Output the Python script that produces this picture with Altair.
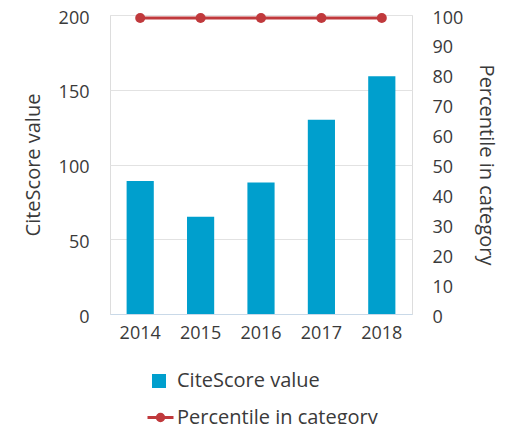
import altair as alt
import pandas as pd

years = ["2014", "2015", "2016", "2017", "2018"]
citescore = [89, 65, 88, 130, 159]
percentile = [99, 99, 99, 99, 99]
bar_series = ["CiteScore value"] * 5
line_series = ["Percentile in category"] * 5

df = pd.DataFrame({
    "year": years,
    "citescore": citescore,
    "percentile": percentile,
    "s1": bar_series,
    "s2": line_series,
})

FONT = "Open Sans"
TXT = "#3a3a3a"
BLUE = "#009fcd"
RED = "#c0393c"

x = alt.X(
    "year:N",
    scale=alt.Scale(paddingInner=0.55, paddingOuter=0.275),
    axis=alt.Axis(title=None, labelAngle=0, ticks=False, domain=True,
                  domainColor="#c9d9e8", labelPadding=10, labelFontSize=18,
                  labelColor=TXT, labelFont=FONT),
)

bars = alt.Chart(df).mark_bar().encode(
    x=x,
    y=alt.Y("citescore:Q", scale=alt.Scale(domain=[0, 200]),
            axis=alt.Axis(values=[0, 50, 100, 150, 200], title="CiteScore value",
                          orient="left", ticks=False, domain=False,
                          grid=True, gridColor="#e2e2e2", labelPadding=21,
                          labelOffset=3,
                          labelFontSize=18, labelColor=TXT, labelFont=FONT,
                          titleFontSize=20, titleFont=FONT, titleColor=TXT,
                          titleFontWeight="normal", titlePadding=15)),
    fill=alt.Fill("s1:N", scale=alt.Scale(range=[BLUE]),
                  legend=alt.Legend(title=None, orient="none", legendX=39, legendY=356,
                                    symbolType="square", symbolSize=196,
                                    symbolStrokeWidth=0, labelOffset=8,
                                    labelFontSize=20, labelFont=FONT, labelLimit=400,
                                    labelColor=TXT, padding=0)),
)

yr = alt.Y("percentile:Q", scale=alt.Scale(domain=[0, 100]),
           axis=alt.Axis(values=list(range(0, 101, 10)), title="Percentile in category",
                         orient="right", ticks=False, domain=False, grid=False,
                         labelPadding=20, labelOffset=3, labelFontSize=18, labelColor=TXT,
                         labelFont=FONT, titleFontSize=20, titleFont=FONT,
                         titleColor=TXT, titleFontWeight="normal", titlePadding=13,
                         titleAngle=90))

line = alt.Chart(df).mark_line(strokeWidth=3).encode(
    x=x,
    y=yr,
    stroke=alt.Stroke("s2:N", scale=alt.Scale(range=[RED]),
                      legend=alt.Legend(title=None, orient="none", legendX=36, legendY=388,
                                        symbolType="M-1,0L1,0M-0.25,0a0.25,0.25 0 1,0 0.5,0a0.25,0.25 0 1,0 -0.5,0",
                                        symbolSize=676, symbolStrokeWidth=3,
                                        symbolFillColor=RED, labelOffset=2,
                                        labelFontSize=20, labelFont=FONT, labelLimit=400,
                                        labelColor=TXT, padding=0)),
)

pts = alt.Chart(df).mark_circle(size=100, opacity=1, color=RED).encode(
    x=x,
    y=yr,
)

chart = alt.layer(bars, alt.layer(line, pts)).resolve_scale(
    y="independent"
).properties(
    width=302, height=299,
    autosize=alt.AutoSizeParams(type="none"),
    padding={"left": 102, "top": 7, "right": 90, "bottom": 110},
).configure_view(stroke="#b0b0b0", strokeWidth=1).configure(font=FONT)

chart.save("out.html", embed_options={"renderer": "svg", "actions": False})
